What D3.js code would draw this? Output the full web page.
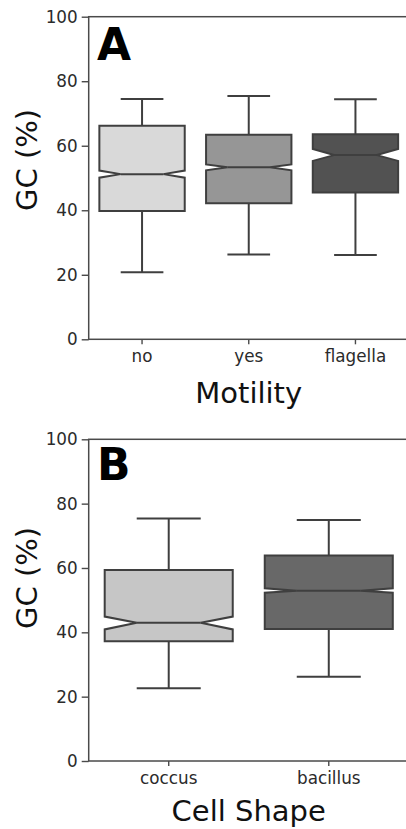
<!DOCTYPE html>
<html>
<head>
<meta charset="utf-8">
<script src="https://cdnjs.cloudflare.com/ajax/libs/d3/7.8.5/d3.min.js"></script>
<style>
body { margin: 0; background: #fff; }
svg { display: block; }
</style>
</head>
<body>
<script>
// panel A : motility
var motility = ['no', 'yes', 'flagella'];
var motilityLo = [20.8, 26.3, 26.1];
var motilityQ1 = [39.8, 42.2, 45.5];
var motilityNotchLo = [50.1, 52.4, 55.3];
var motilityMed = [51.2, 53.3, 57.1];
var motilityNotchHi = [52.3, 54.2, 59.0];
var motilityQ3 = [66.2, 63.4, 63.6];
var motilityHi = [74.5, 75.4, 74.4];
var motilityColors = ['#d9d9d9', '#969696', '#525252'];

// panel B : cell shape
var shape = ['coccus', 'bacillus'];
var shapeLo = [22.6, 26.2];
var shapeQ1 = [37.2, 41.0];
var shapeNotchLo = [40.9, 52.3];
var shapeMed = [43.0, 52.9];
var shapeNotchHi = [44.9, 53.7];
var shapeQ3 = [59.4, 63.9];
var shapeHi = [75.4, 74.9];
var shapeColors = ['#c6c6c6', '#686868'];

var yTicks = [0, 20, 40, 60, 80, 100];

var W = 406, H = 829;
var edge = '#3f3f3f';
var textCol = '#2b2b2b';
var lw = 2;

var svg = d3.select('body').append('svg').attr('width', W).attr('height', H);

function panel(o) {
  var x = d3.scaleBand().domain(o.cats).range([88.7, 408.8]).padding(0);
  var y = d3.scaleLinear().domain([0, 100]).range([o.bottom, o.top]);
  var g = svg.append('g');

  var rows = o.cats.map(function(c, i) {
    return {cat: c, lo: o.lo[i], q1: o.q1[i], nlo: o.nlo[i], med: o.med[i],
            nhi: o.nhi[i], q3: o.q3[i], hi: o.hi[i], color: o.colors[i]};
  });

  var bw = x.bandwidth() * 0.8;
  function cx(d) { return x(d.cat) + x.bandwidth() / 2; }

  var b = g.selectAll('g.box').data(rows).enter().append('g').attr('class', 'box');

  // whiskers
  b.append('line')
    .attr('x1', cx).attr('x2', cx)
    .attr('y1', function(d) { return y(d.q3); })
    .attr('y2', function(d) { return y(d.hi); })
    .attr('stroke', edge).attr('stroke-width', lw);
  b.append('line')
    .attr('x1', cx).attr('x2', cx)
    .attr('y1', function(d) { return y(d.q1); })
    .attr('y2', function(d) { return y(d.lo); })
    .attr('stroke', edge).attr('stroke-width', lw);
  // caps
  ['hi', 'lo'].forEach(function(k) {
    b.append('line')
      .attr('x1', function(d) { return cx(d) - bw / 4; })
      .attr('x2', function(d) { return cx(d) + bw / 4; })
      .attr('y1', function(d) { return y(d[k]); })
      .attr('y2', function(d) { return y(d[k]); })
      .attr('stroke', edge).attr('stroke-width', lw);
  });

  // notched box
  b.append('path')
    .attr('d', function(d) {
      var c = cx(d);
      var l = c - bw / 2, r = c + bw / 2, cl = c - bw / 4, cr = c + bw / 4;
      var p = d3.path();
      p.moveTo(l, y(d.q1));
      p.lineTo(r, y(d.q1));
      p.lineTo(r, y(d.nlo));
      p.lineTo(cr, y(d.med));
      p.lineTo(r, y(d.nhi));
      p.lineTo(r, y(d.q3));
      p.lineTo(l, y(d.q3));
      p.lineTo(l, y(d.nhi));
      p.lineTo(cl, y(d.med));
      p.lineTo(l, y(d.nlo));
      p.closePath();
      return p.toString();
    })
    .attr('fill', function(d) { return d.color; })
    .attr('stroke', edge).attr('stroke-width', lw)
    .attr('stroke-linejoin', 'miter');

  // median
  b.append('line')
    .attr('x1', function(d) { return cx(d) - bw / 4; })
    .attr('x2', function(d) { return cx(d) + bw / 4; })
    .attr('y1', function(d) { return y(d.med); })
    .attr('y2', function(d) { return y(d.med); })
    .attr('stroke', edge).attr('stroke-width', lw);

  // axes
  var ya = g.append('g').attr('transform', 'translate(88.7,0)')
    .call(d3.axisLeft(y).tickValues(yTicks).tickSize(7).tickPadding(4).tickFormat(d3.format('d')));
  var xa = g.append('g').attr('transform', 'translate(0,' + o.bottom + ')')
    .call(d3.axisBottom(x).tickSize(5).tickPadding(6));
  [ya, xa].forEach(function(a) {
    a.select('.domain').remove();
    a.selectAll('.tick line').attr('stroke', '#4a4a4a').attr('stroke-width', 1.4);
    a.selectAll('.tick text')
      .attr('fill', textCol)
      .style('font-family', 'DejaVu Sans')
      .style('font-size', '16.8px');
  });

  // spines
  g.append('rect')
    .attr('x', 88.7).attr('y', o.top)
    .attr('width', 408.8 - 88.7).attr('height', o.bottom - o.top)
    .attr('fill', 'none').attr('stroke', '#4a4a4a').attr('stroke-width', 1.5);

  g.append('text')
    .attr('x', 248.7).attr('y', o.xlabY)
    .attr('text-anchor', 'middle')
    .attr('fill', '#111')
    .style('font-family', 'DejaVu Sans').style('font-size', '29px')
    .text(o.xlabel);

  g.append('text')
    .attr('transform', 'translate(37,' + o.ylabY + ') rotate(-90)')
    .attr('text-anchor', 'middle')
    .attr('fill', '#111')
    .style('font-family', 'DejaVu Sans').style('font-size', '29px')
    .text('GC (%)');

  g.append('text')
    .attr('x', 97).attr('y', o.letterY)
    .attr('fill', '#000')
    .style('font-family', 'DejaVu Sans').style('font-weight', 'bold').style('font-size', '44px')
    .text(o.letter);
}

panel({cats: motility, lo: motilityLo, q1: motilityQ1, nlo: motilityNotchLo, med: motilityMed,
       nhi: motilityNotchHi, q3: motilityQ3, hi: motilityHi, colors: motilityColors,
       top: 16.7, bottom: 339.3, xlabel: 'Motility', xlabY: 403, ylabY: 160,
       letter: 'A', letterY: 60});

panel({cats: shape, lo: shapeLo, q1: shapeQ1, nlo: shapeNotchLo, med: shapeMed,
       nhi: shapeNotchHi, q3: shapeQ3, hi: shapeHi, colors: shapeColors,
       top: 439.3, bottom: 761, xlabel: 'Cell Shape', xlabY: 821, ylabY: 578,
       letter: 'B', letterY: 479.5});
</script>
</body>
</html>
